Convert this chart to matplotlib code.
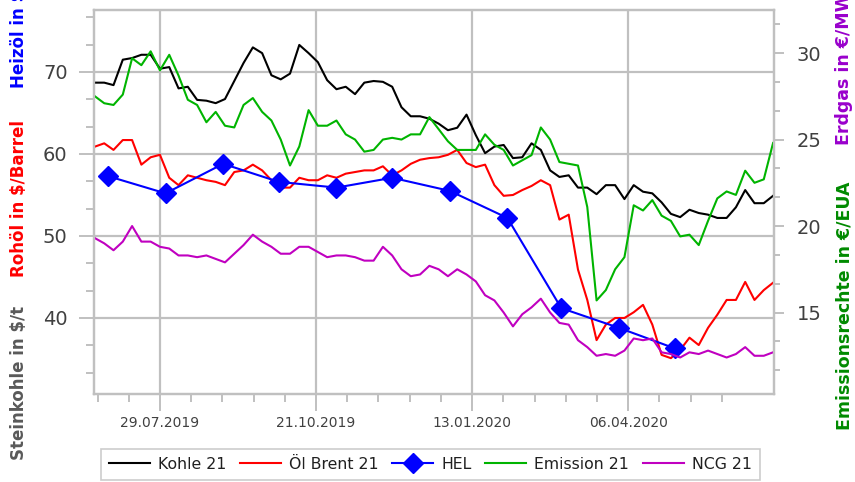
import numpy as np
import pandas as pd
import matplotlib
matplotlib.use("Agg")
import matplotlib.pyplot as plt
import matplotlib.dates as mdates

# data (5-day steps)
dates = pd.date_range("2019-06-24", periods=74, freq="5D")

kohle = [68.7, 68.7, 68.4, 71.5, 71.7, 72.1, 72.1, 70.4, 70.6, 68.0,
         68.2, 66.6, 66.5, 66.2, 66.7, 68.9, 71.1, 73.0, 72.3, 69.6,
         69.1, 69.8, 73.3, 72.3, 71.2, 69.0, 67.9, 68.2, 67.3, 68.7,
         68.9, 68.8, 68.2, 65.7, 64.6, 64.6, 64.3, 63.7, 62.9, 63.2,
         64.8, 62.3, 60.1, 60.9, 61.1, 59.5, 59.6, 61.3, 60.5, 58.0,
         57.2, 57.4, 55.9, 55.9, 55.1, 56.2, 56.2, 54.5, 56.2, 55.4,
         55.2, 54.1, 52.7, 52.3, 53.2, 52.8, 52.6, 52.2, 52.2, 53.5,
         55.6, 54.0, 54.0, 54.9]

brent = [60.9, 61.3, 60.5, 61.7, 61.7, 58.7, 59.6, 59.9, 57.1, 56.2,
         57.4, 57.1, 56.8, 56.6, 56.2, 57.8, 58.0, 58.7, 58.0, 56.8,
         55.9, 55.9, 57.1, 56.8, 56.8, 57.4, 57.1, 57.6, 57.8, 58.0,
         58.0, 58.5, 57.4, 58.0, 58.8, 59.3, 59.5, 59.6, 59.9, 60.5,
         58.9, 58.4, 58.7, 56.2, 54.9, 55.0, 55.6, 56.1, 56.8, 56.2,
         52.0, 52.6, 45.9, 42.2, 37.3, 39.2, 40.0, 40.0, 40.7, 41.6,
         39.2, 35.5, 35.1, 36.1, 37.6, 36.7, 38.8, 40.4, 42.2, 42.2,
         44.4, 42.2, 43.4, 44.3]

emission = [27.5, 27.1, 27.0, 27.6, 29.7, 29.3, 30.1, 29.0, 29.9, 28.7,
            27.3, 27.0, 26.0, 26.6, 25.8, 25.7, 27.0, 27.4, 26.6, 26.1,
            25.0, 23.5, 24.6, 26.7, 25.8, 25.8, 26.1, 25.3, 25.0, 24.3,
            24.4, 25.0, 25.1, 25.0, 25.3, 25.3, 26.3, 25.6, 24.9, 24.4,
            24.4, 24.4, 25.3, 24.7, 24.4, 23.5, 23.8, 24.1, 25.7, 25.0,
            23.7, 23.6, 23.5, 21.1, 15.7, 16.3, 17.5, 18.2, 21.2, 20.9,
            21.5, 20.6, 20.3, 19.4, 19.5, 18.9, 20.3, 21.6, 22.0, 21.8,
            23.2, 22.5, 22.7, 24.8]

ncg = [19.3, 19.0, 18.6, 19.1, 20.0, 19.1, 19.1, 18.8, 18.7, 18.3,
       18.3, 18.2, 18.3, 18.1, 17.9, 18.4, 18.9, 19.5, 19.1, 18.8,
       18.4, 18.4, 18.8, 18.8, 18.5, 18.2, 18.3, 18.3, 18.2, 18.0,
       18.0, 18.8, 18.3, 17.5, 17.1, 17.2, 17.7, 17.5, 17.1, 17.5,
       17.2, 16.8, 16.0, 15.7, 15.0, 14.2, 14.9, 15.3, 15.8, 15.0,
       14.4, 14.3, 13.4, 13.0, 12.5, 12.6, 12.5, 12.8, 13.5, 13.4,
       13.5, 12.7, 12.6, 12.4, 12.7, 12.6, 12.8, 12.6, 12.4, 12.6,
       13.0, 12.5, 12.5, 12.7]

hel_dates = pd.date_range("2019-07-01", periods=11, freq="MS")
hel = [57.3, 55.2, 58.8, 56.6, 55.9, 57.1, 55.5, 52.2, 41.2, 38.8, 36.3]

x_major = pd.date_range("2019-07-29", periods=4, freq="84D")

plt.rcParams["font.family"] = ["DejaVu Sans"]
grid_c = "#c0c0c0"
txt_c = "#404040"

fig = plt.figure(figsize=(8.55, 4.82), dpi=100)
ax = fig.add_axes([94 / 855, 1 - 394 / 482, 680 / 855, 384 / 482])
ax2 = ax.twinx()

l1, = ax.plot(dates, kohle, color="black", lw=1.5, zorder=3)
l2, = ax.plot(dates, brent, color="#ff0000", lw=1.5, zorder=3)
l3, = ax.plot(hel_dates, hel, color="#0000ff", lw=1.5, marker="D",
              markersize=10, zorder=4)
l4, = ax2.plot(dates, emission, color="#00b400", lw=1.5)
l5, = ax2.plot(dates, ncg, color="#c000c0", lw=1.5)

ax.set_yticks([40, 50, 60, 70])
ax.set_yticks(np.arange(10, 80, 10 / 3), minor=True)
ax2.set_yticks([15, 20, 25, 30])
ax2.set_yticks(np.arange(10, 35, 5 / 3), minor=True)

minor_x = [x_major[0] + pd.Timedelta(days=16.8 * k) for k in range(-2, 19)]
ax.set_xticks(list(x_major))
ax.set_xticks(minor_x, minor=True)
ax.xaxis.set_major_formatter(mdates.DateFormatter("%d.%m.%Y"))

# limits after ticks so the tick lists do not widen them
ax.set_xlim(pd.Timestamp("2019-06-23 12:00"), pd.Timestamp("2020-06-23 12:00"))
ax.set_ylim(30.73, 77.56)
ax2.set_ylim(10.29, 32.49)

ax.grid(True, which="major", color=grid_c, lw=1.6)
ax.set_axisbelow(True)

for a in (ax, ax2):
    for s in a.spines.values():
        s.set_color(grid_c)
        s.set_linewidth(1.6)

ax.tick_params(axis="y", which="major", length=11, width=1.4, color=grid_c,
               labelsize=14, labelcolor=txt_c, pad=8)
ax.tick_params(axis="y", which="minor", length=5.5, width=1.4, color=grid_c)
ax.tick_params(axis="x", which="major", length=12, width=1.4, color=grid_c,
               labelsize=10, labelcolor=txt_c, pad=4)
ax.tick_params(axis="x", which="minor", length=6, width=1.4, color=grid_c)
ax2.tick_params(axis="y", which="major", length=7.5, width=1.4, color=grid_c,
                labelsize=14, labelcolor=txt_c, pad=9)
ax2.tick_params(axis="y", which="minor", length=4, width=1.4, color=grid_c)

# stacked axis titles
fig.text(19 / 855, 1 - 460 / 482, "Steinkohle in $/t", rotation=90, ha="center",
         va="bottom", color="#595959", fontsize=12, fontweight="bold")
fig.text(19 / 855, 1 - 277 / 482, "Rohöl in $/Barrel", rotation=90, ha="center",
         va="bottom", color="#ff0000", fontsize=12, fontweight="bold")
fig.text(19 / 855, 1 - 88 / 482, "Heizöl in $/t", rotation=90, ha="center",
         va="bottom", color="#0000ff", fontsize=12, fontweight="bold")
fig.text(844 / 855, 1 - 430 / 482, "Emissionsrechte in €/EUA", rotation=90,
         ha="center", va="bottom", color="#008a00", fontsize=12.5, fontweight="bold")
fig.text(844 / 855, 1 - 145 / 482, "Erdgas in €/MWh", rotation=90,
         ha="center", va="bottom", color="#9900cc", fontsize=12.5, fontweight="bold")

leg = fig.legend([l1, l2, l3, l4, l5],
                 ["Kohle 21", "Öl Brent 21", "HEL", "Emission 21", "NCG 21"],
                 loc="upper left", bbox_to_anchor=(101 / 855, 1 - 449 / 482),
                 borderaxespad=0, ncol=5, frameon=True, fancybox=False,
                 edgecolor=grid_c, fontsize=11.3, handlelength=2.6,
                 columnspacing=0.9, handletextpad=0.5, borderpad=0.5)
leg.get_frame().set_linewidth(1.2)
for t in leg.get_texts():
    t.set_color("#202020")

fig.savefig("out.png", dpi=100)
